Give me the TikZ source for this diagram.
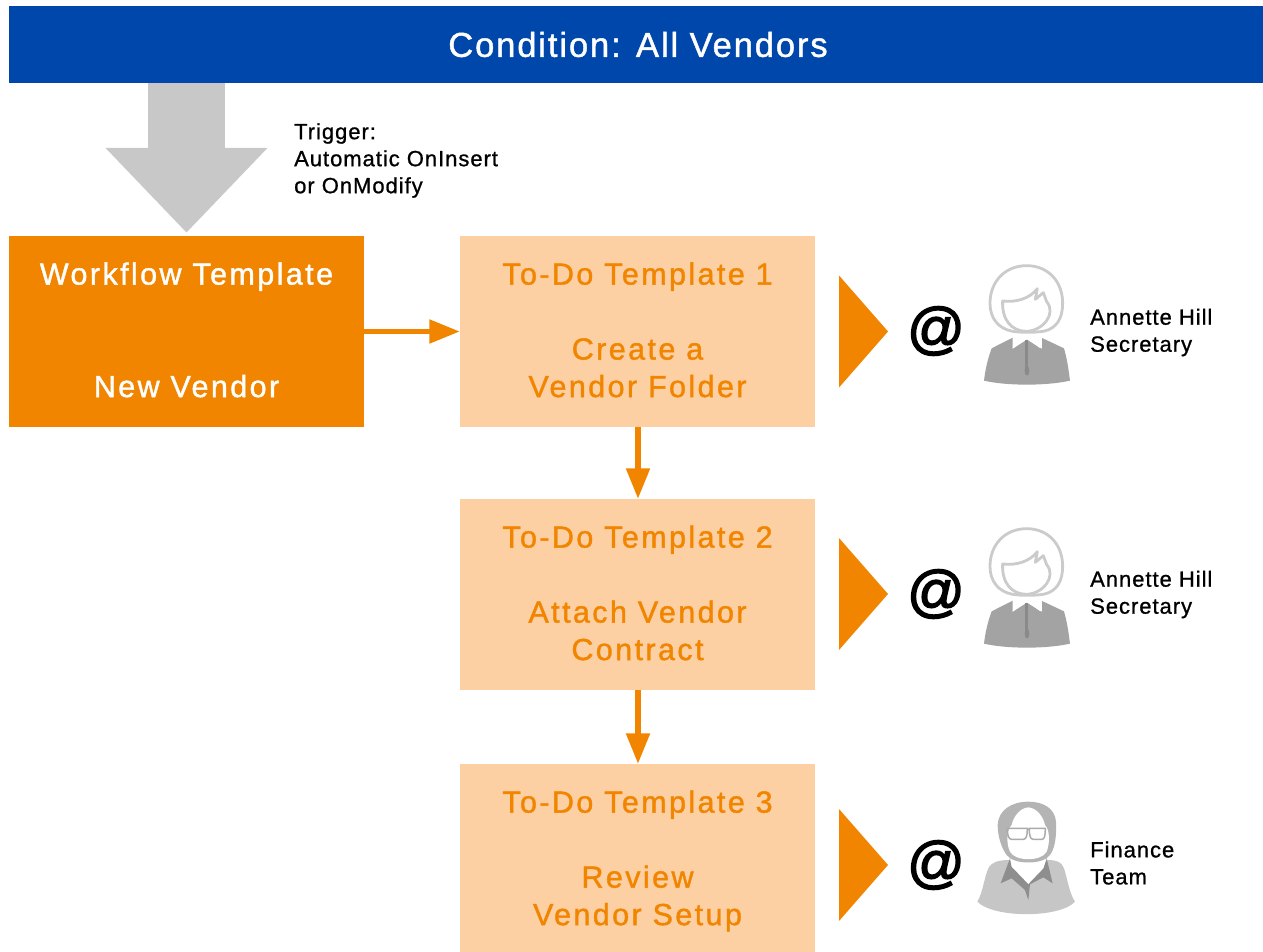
\documentclass[tikz,border=0pt]{standalone}
\usepackage{fontspec}
\setmainfont{Liberation Sans}
\newfontfamily\titlef[LetterSpace=5.5,FakeBold=1.3]{Liberation Sans}
\newfontfamily\spaced[LetterSpace=7.9,FakeBold=1.3]{Liberation Sans}
\newfontfamily\smallsp[LetterSpace=4.4,FakeBold=0.9]{Liberation Sans}
\newfontfamily\atfont[FakeBold=2.5]{Liberation Sans}
\newcommand{\upbit}{\rule[-3.5pt]{0pt}{0pt}}
\newcommand{\downbit}{\rule{0pt}{28pt}}
\usetikzlibrary{arrows.meta,calc}
\definecolor{bannerblue}{HTML}{0047AB}
\definecolor{darkor}{HTML}{F28500}
\definecolor{lightor}{HTML}{FCD0A3}
\definecolor{bigarrowgray}{HTML}{C8C8C8}
\definecolor{hairgray}{HTML}{CBCBCB}
\definecolor{suitgray}{HTML}{A3A3A3}
\definecolor{zipgray}{HTML}{8A8A8A}
\definecolor{manhair}{HTML}{B4B4B4}
\definecolor{mancoat}{HTML}{C6C6C6}
\definecolor{mancollar}{HTML}{8E8E8E}
\tikzset{
 x=1pt,y=-1pt,
 boxbase/.style={inner sep=0pt,minimum width=355pt,align=center,font=\spaced\fontsize{30.5}{37.5}\selectfont},
 wfbox/.style={boxbase,fill=darkor,text=white},
 todobox/.style={boxbase,fill=lightor,text=darkor},
 flow/.style={draw=darkor,line width=5.3pt,-{Triangle[length=30.5pt,width=23pt]}},
 bigarrow/.style={draw=bigarrowgray,line width=77pt,-{Triangle[length=85pt,width=157pt,sep=0pt]},shorten >=3pt},
 smalltext/.style={inner sep=0pt,anchor=west,align=left,font=\smallsp\fontsize{22}{27}\selectfont},
 atsign/.style={inner sep=0pt,font=\atfont\fontsize{57}{57}\selectfont,text=black},
 woman/.pic={
  \begin{scope}[x=0.3333pt,y=-0.3333pt]
  \fill[suitgray] (550,262) -- (485,295) .. controls (472,330) and (466,360) .. (462,392) .. controls (530,408) and (650,408) .. (720,392) .. controls (716,360) and (712,330) .. (702,295) -- (632,262) -- (632,296) -- (592,268) -- (548,296) -- cycle;
  \fill[white] (548,252) -- (548,296) -- (590,268) -- (636,296) -- (636,252) -- cycle;
  \draw[line width=3pt,draw=zipgray] (591,270) -- (591,362);
  \fill[zipgray] (591,362) ellipse (7 and 15);
  \draw[hairgray,line width=2.8pt] (590,47) .. controls (525,47) and (480,95) .. (480,160) .. controls (480,205) and (505,236) .. (548,244) .. controls (575,248) and (610,248) .. (640,244) .. controls (680,236) and (698,205) .. (698,160) .. controls (698,95) and (655,47) .. (590,47) -- cycle;
  \draw[hairgray,line width=2.8pt,line join=round] (518,153) .. controls (560,158) and (600,145) .. (622,116) -- (616,148) -- (640,128) -- (650,155) .. controls (680,190) and (640,242) .. (590,244) .. controls (545,244) and (515,210) .. (518,153) -- cycle;
  \end{scope}
 },
 finman/.pic={
  \begin{scope}[x=0.3333pt,y=-0.3333pt]
  \fill[mancoat] (530,210) .. controls (505,212) and (485,215) .. (475,235) .. controls (462,265) and (458,310) .. (442,335) .. controls (490,385) and (690,385) .. (735,335) .. controls (718,310) and (712,265) .. (702,235) .. controls (695,215) and (680,212) .. (660,210) -- cycle;
  \fill[mancollar] (540,205) -- (512,280) -- (545,265) -- (585,300) -- (595,330) -- (600,283) -- (640,262) -- (668,280) -- (650,205) -- cycle;
  \fill[white] (540,205) -- (545,230) -- (595,282) -- (640,235) -- (650,205) -- cycle;
  \fill[manhair] (595,35) .. controls (545,35) and (505,60) .. (503,105) .. controls (503,140) and (515,175) .. (530,195) .. controls (550,225) and (640,225) .. (660,195) .. controls (675,175) and (680,140) .. (678,95) .. controls (675,55) and (640,35) .. (595,35) -- cycle;
  \fill[white] (595,52) .. controls (570,54) and (550,80) .. (545,105) .. controls (530,120) and (528,160) .. (540,185) .. controls (555,215) and (635,215) .. (650,185) .. controls (660,160) and (660,120) .. (645,105) .. controls (640,80) and (620,54) .. (595,52) -- cycle;
  \draw[black!33,line width=1.5pt,line join=round] (532,115) -- (592,115) .. controls (592,135) and (590,148) .. (580,148) -- (545,148) .. controls (535,148) and (532,135) .. (532,115) -- cycle (598,115) -- (646,115) .. controls (646,135) and (644,148) .. (636,148) -- (610,148) .. controls (600,148) and (598,135) .. (598,115) -- cycle (592,118) -- (598,118);
  \end{scope}
 }
}
\begin{document}
\begin{tikzpicture}
\useasboundingbox (0,0) rectangle (1263,952);
% banner
\node[fill=bannerblue,text=white,inner sep=0pt,minimum width=1254pt,minimum height=77pt,font=\titlef\fontsize{34.5}{40}\selectfont] (banner) at (636,44.5) {\hspace{4pt}Condition: All Vendors};
% boxes
\node[wfbox,minimum height=191pt] (wf) at (186.5,331.5) {Workflow Template\\[75pt]New Vendor\upbit};
\node[todobox,minimum height=191pt] (t1) at (637.5,331.5) {To-Do Template 1\\[37.5pt]Create a\\Vendor Folder\upbit};
\node[todobox,minimum height=191pt] (t2) at (637.5,594.5) {To-Do Template 2\\[37.5pt]Attach Vendor\\Contract\upbit};
\node[todobox,minimum height=188pt] (t3) at (637.5,858) {\downbit To-Do Template 3\\[37.5pt]Review\\Vendor Setup};
% connectors
\coordinate (bigstart) at (186.5,83);
\draw[bigarrow] (bigstart) -- (wf.north);
\draw[flow] (wf) -- (t1);
\draw[flow] ([xshift=.5pt]t1.south) -- ([xshift=.5pt]t2.north);
\draw[flow] ([xshift=.5pt]t2.south) -- ([xshift=.5pt]t3.north);
% trigger text
\node[smalltext] (trig) at (294,160.5) {Trigger:\\Automatic OnInsert\\or OnModify};
% triangles
\foreach \n/\y in {a/331.5,b/594,c/865}{
 \fill[darkor] (839,\y-56) -- (888,\y) -- (839,\y+56) -- cycle;
}
% at signs
\node[atsign] (at1) at (936,331) {@};
\node[atsign] (at2) at (936,594) {@};
\node[atsign] (at3) at (936,865) {@};
% people
\pic at (830,250) {woman};
\pic at (830,513) {woman};
\pic at (830,790) {finman};
% names
\node[smalltext] (p1) at (1090,332.5) {Annette Hill\\Secretary};
\node[smalltext] (p2) at (1090,594.5) {Annette Hill\\Secretary};
\node[smalltext] (p3) at (1090,863) {Finance\\Team};
\end{tikzpicture}
\end{document}
